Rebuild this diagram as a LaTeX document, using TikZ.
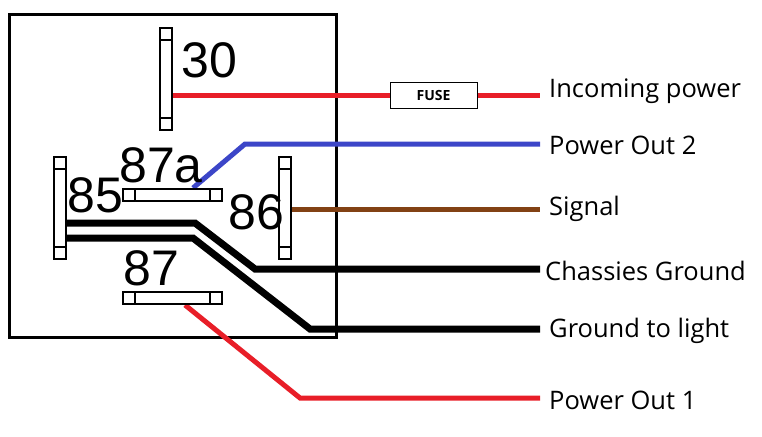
\documentclass[tikz,border=0pt]{standalone}
\usepackage{fontspec}
\setmainfont{Open Sans}
\newfontfamily\pinfont{Liberation Sans}
\begin{document}
\begin{tikzpicture}[x=1pt,y=-1pt,
  pinlab/.style={font=\pinfont\fontsize{50}{50}\selectfont,inner sep=0pt},
  lab/.style={font=\fontsize{25.5}{26}\selectfont,anchor=west,inner sep=0pt},
  red/.style={draw={rgb,255:red,232;green,30;blue,40},line width=5pt},
  blk/.style={draw=black,line width=7pt},
  pinbox/.style={draw=black,fill=white,line width=1.6pt}]
\useasboundingbox (0,0) rectangle (762,436);
\draw[line width=3pt] (9,15) rectangle (336,337);
% wires
\draw[red] (173,95) -- (390,95);
\draw[red] (477,95) -- (540,95);
\node[draw=black,line width=1pt,minimum width=87pt,minimum height=26pt,inner sep=0pt,font=\fontsize{14}{14}\selectfont\bfseries] (fuse) at (433.5,95) {FUSE};
\coordinate (b1) at (193,188);
\draw[draw={rgb,255:red,60;green,70;blue,200},line width=5pt] (b1) -- (245,144) -- (540,144);
\draw[draw={rgb,255:red,130;green,65;blue,20},line width=5pt] (291,209) -- (540,209);
\draw[blk] (66,223) -- (195,223) -- (255,269) -- (540,269);
\draw[blk] (66,238) -- (193,238) -- (310,329) -- (540,329);
\draw[red] (185,305) -- (300,398) -- (540,398);
% pins
\foreach \n/\x/\y in {p30/160/28, p85/54/157, p86/279/157}{
  \draw[pinbox] (\x,\y) rectangle ++(12,102);
  \draw[pinbox] (\x,\y+12) -- ++(0,0) (\x,\y+12) -- ++(12,0) (\x,\y+90) -- ++(12,0);
}
\foreach \x/\y in {123/189, 123/292}{
  \draw[pinbox] (\x,\y) rectangle ++(99,12);
  \draw[pinbox] (\x+12,\y) -- ++(0,12) (\x+87,\y) -- ++(0,12);
}
\node[pinlab,anchor=west] (l30) at (181,60) {30};
\node[pinlab,anchor=west] (l87a) at (119,165) {87a};
\node[pinlab,anchor=west] (l85) at (67,195) {85};
\node[pinlab,anchor=west] (l86) at (228,212) {86};
\node[pinlab,anchor=west] (l87) at (123,268) {87};
% labels
\node[lab] (t1) at (549,91) {Incoming power};
\node[lab] (t2) at (549,145) {Power Out 2};
\node[lab] (t3) at (549,209) {Signal};
\node[lab] (t4) at (545,271) {Chassies Ground};
\node[lab] (t5) at (549,331) {Ground to light};
\node[lab] (t6) at (549,400) {Power Out 1};
\end{tikzpicture}
\end{document}
